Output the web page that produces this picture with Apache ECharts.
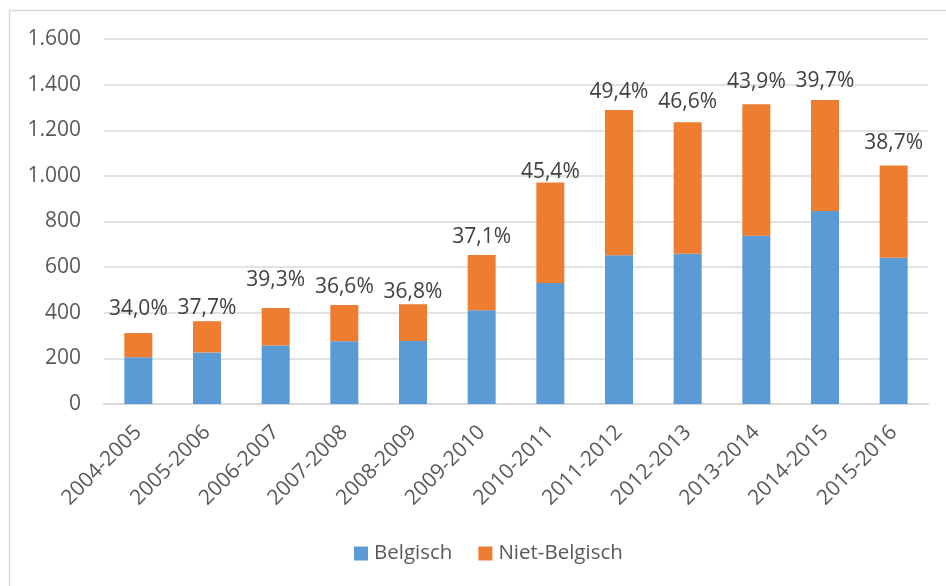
<!DOCTYPE html>
<html>
<head>
<meta charset="utf-8">
<script src="https://cdn.jsdelivr.net/npm/echarts@6/dist/echarts.min.js"></script>
<style>
  html, body { margin: 0; padding: 0; background: #ffffff; }
  #chart { width: 946px; height: 586px; }
</style>
</head>
<body>
<div id="chart"></div>
<script>
// School years
const years = ['2004-2005','2005-2006','2006-2007','2007-2008','2008-2009','2009-2010',
               '2010-2011','2011-2012','2012-2013','2013-2014','2014-2015','2015-2016'];
// Number of students by nationality
const belgisch     = [205, 226, 256, 275, 276, 411, 530, 652, 659, 737, 846, 641];
const nietBelgisch = [106, 137, 165, 159, 161, 242, 441, 637, 576, 577, 487, 404];
// Share of non-Belgian students, as printed above each stack
const shareLabels = ['34,0%','37,7%','39,3%','36,6%','36,8%','37,1%',
                     '45,4%','49,4%','46,6%','43,9%','39,7%','38,7%'];
// Y axis ticks
const yMin = 0, yMax = 1600, yStep = 200;

// Vertical gap between each stack and its share label (px)
const labelGap = [14, 3, 17, 7, 2, 8, 0, 7, 10, 12, 8, 12];

const FONT = '"Open Sans", "Noto Sans", sans-serif';
const TEXT = '#595959';

const chart = echarts.init(document.getElementById('chart'), null, { renderer: 'canvas' });

chart.setOption({
  backgroundColor: '#ffffff',
  animation: false,
  textStyle: { fontFamily: FONT, color: TEXT },
  graphic: [{
    type: 'rect',
    shape: { x: 9.5, y: 10.5, width: 960, height: 600 },
    style: { fill: 'none', stroke: '#d9d9d9', lineWidth: 1.5 },
    silent: true
  }],
  grid: { left: 104, right: 18, top: 39, bottom: 182, containLabel: false },
  legend: {
    bottom: 17,
    left: 349,
    itemWidth: 14,
    itemHeight: 14,
    itemGap: 26,
    icon: 'rect',
    textStyle: { fontFamily: FONT, fontSize: 20.5, color: TEXT, padding: [0, 0, 0, 1] },
    data: ['Belgisch', 'Niet-Belgisch']
  },
  xAxis: {
    type: 'category',
    data: years,
    axisLine: { show: true, lineStyle: { color: '#d9d9d9', width: 2 } },
    axisTick: { show: false },
    axisLabel: {
      rotate: 45,
      margin: 25,
      interval: 0,
      fontFamily: FONT,
      fontSize: 21,
      color: TEXT
    }
  },
  yAxis: {
    type: 'value',
    min: yMin,
    max: yMax,
    interval: yStep,
    axisLine: { show: false },
    axisTick: { show: false },
    splitLine: { lineStyle: { color: '#d9d9d9', width: 1.5 } },
    axisLabel: {
      margin: 23,
      fontFamily: FONT,
      fontSize: 21,
      color: TEXT,
      formatter: v => v.toLocaleString('de-DE')
    }
  },
  series: [
    {
      name: 'Belgisch',
      type: 'bar',
      stack: 'total',
      barWidth: 28,
      itemStyle: { color: '#5b9bd5' },
      data: belgisch
    },
    {
      name: 'Niet-Belgisch',
      type: 'bar',
      stack: 'total',
      barWidth: 28,
      itemStyle: { color: '#ed7d31' },
      data: nietBelgisch.map((v, i) => ({
        value: v,
        label: {
          show: true,
          position: 'top',
          distance: labelGap[i],
          formatter: shareLabels[i],
          fontFamily: FONT,
          fontSize: 21,
          color: '#404040'
        }
      }))
    }
  ]
});
</script>
</body>
</html>
